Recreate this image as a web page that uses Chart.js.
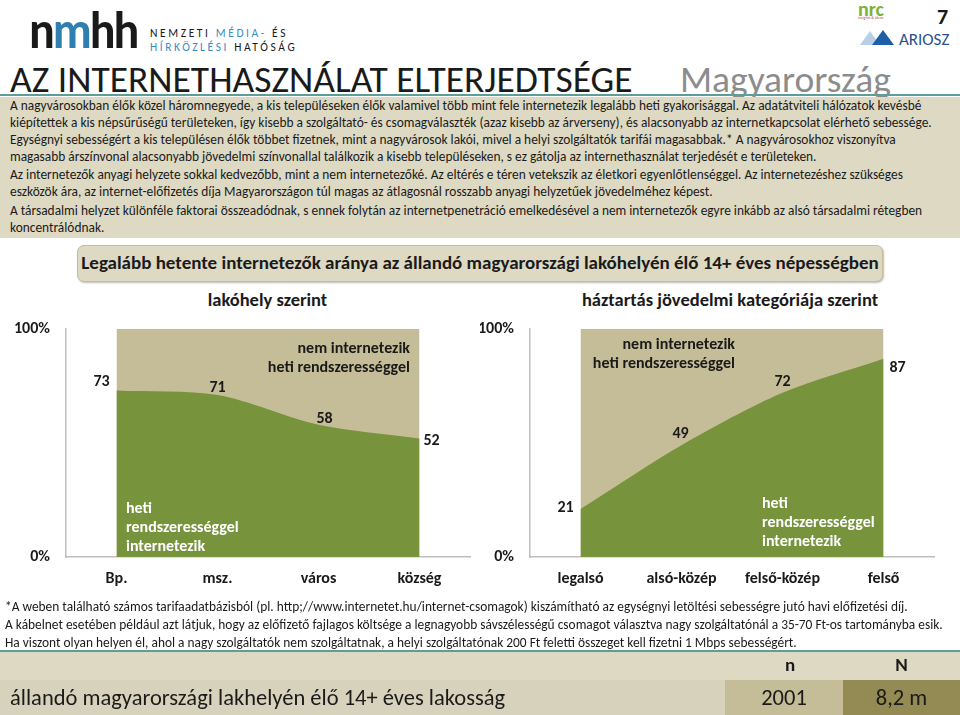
<!DOCTYPE html>
<html>
<head>
<meta charset="utf-8">
<script src="https://cdn.jsdelivr.net/npm/chart.js@4.4.0/dist/chart.umd.min.js"></script>
<style>
  body { margin: 0; width: 960px; height: 715px; position: relative; overflow: hidden; background: #fff;
         font-family: Carlito, Lato, "Open Sans", sans-serif; color: #1a1a1a; }
  .abs { position: absolute; white-space: nowrap; }
  #intro { left: 0; top: 97px; width: 960px; height: 141px; background: #ddd9c3; }
  #intro div { position: absolute; left: 10px; font-size: 13.4px; line-height: 16px; }
  .foot { left: 5px; font-size: 13.4px; line-height: 16px; }
  .inner { font-weight: bold; font-size: 16px; line-height: 19px; }
</style>
</head>
<body>
<!-- logos -->
<div class="abs" style="left:29px;top:5px;font-size:48px;font-weight:bold;letter-spacing:-2px;line-height:52px;transform:scaleY(1.08);">n<span style="color:#2f7fb0">m</span>hh</div>
<div class="abs" style="left:150px;top:26px;font-size:11.5px;letter-spacing:2.6px;line-height:14px;">NEMZETI <span style="color:#3a8cc0">MÉDIA- </span>ÉS<br><span style="color:#3a8cc0">HÍRKÖZLÉSI</span> HATÓSÁG</div>
<div class="abs" style="left:858px;top:-3px;font-size:20px;font-weight:bold;color:#7bb13a;">nrc</div>
<div class="abs" style="left:858px;top:15px;font-size:4px;color:#c0504d;">insights &amp; ideas</div>
<div class="abs" style="left:860px;top:31px;width:0;height:0;border-left:10px solid transparent;border-right:10px solid transparent;border-bottom:14px solid #b8cfe8;"></div>
<div class="abs" style="left:872px;top:30px;width:0;height:0;border-left:11px solid transparent;border-right:11px solid transparent;border-bottom:15px solid #1f5fa8;"></div>
<div class="abs" style="left:899px;top:29px;font-size:17px;color:#2b4f8f;">ARIOSZ</div>
<div class="abs" style="left:937px;top:3px;font-size:22px;font-weight:bold;">7</div>

<div class="abs" style="left:10px;top:57px;font-size:37.5px;line-height:44px;">AZ INTERNETHASZNÁLAT ELTERJEDTSÉGE</div>
<div class="abs" style="left:680px;top:57px;font-size:37.5px;line-height:44px;color:#8c8c8c;">Magyarország</div>
<div class="abs" style="left:0;top:94px;width:960px;height:2px;background:#5e9e9a;"></div>

<div id="intro" class="abs">
  <div style="top:1px">A nagyvárosokban élők közel háromnegyede, a kis településeken élők valamivel több mint fele internetezik legalább heti gyakorisággal. Az adatátviteli hálózatok kevésbé</div>
  <div style="top:18px">kiépítettek a kis népsűrűségű területeken, így kisebb a szolgáltató- és csomagválaszték (azaz kisebb az árverseny), és alacsonyabb az internetkapcsolat elérhető sebessége.</div>
  <div style="top:35px">Egységnyi sebességért a kis településen élők többet fizetnek, mint a nagyvárosok lakói, mivel a helyi szolgáltatók tarifái magasabbak.* A nagyvárosokhoz viszonyítva</div>
  <div style="top:52px">magasabb árszínvonal alacsonyabb jövedelmi színvonallal találkozik a kisebb településeken, s ez gátolja az internethasználat terjedését e területeken.</div>
  <div style="top:70px">Az internetezők anyagi helyzete sokkal kedvezőbb, mint a nem internetezőké. Az eltérés e téren vetekszik az életkori egyenlőtlenséggel. Az internetezéshez szükséges</div>
  <div style="top:87px">eszközök ára, az internet-előfizetés díja Magyarországon túl magas az átlagosnál rosszabb anyagi helyzetűek jövedelméhez képest.</div>
  <div style="top:106px">A társadalmi helyzet különféle faktorai összeadódnak, s ennek folytán az internetpenetráció emelkedésével a nem internetezők egyre inkább az alsó társadalmi rétegben</div>
  <div style="top:123px">koncentrálódnak.</div>
</div>

<div class="abs" style="left:77px;top:245px;width:804px;height:35px;background:#ddd9c3;border:1px solid #c4bd97;border-radius:7px;box-shadow:1px 1px 2px #bbb;"></div>
<div class="abs" style="left:77px;top:251px;width:806px;text-align:center;font-size:19px;font-weight:bold;">Legalább hetente internetezők aránya az állandó magyarországi lakóhelyén élő 14+ éves népességben</div>

<div class="abs" style="left:160px;top:288px;width:215px;text-align:center;font-size:18.5px;font-weight:bold;">lakóhely szerint</div>
<div class="abs" style="left:580px;top:288px;width:300px;text-align:center;font-size:18.5px;font-weight:bold;">háztartás jövedelmi kategóriája szerint</div>

<canvas id="c1" class="abs" style="left:0;top:315px;"></canvas>
<canvas id="c2" class="abs" style="left:480px;top:315px;"></canvas>

<div class="abs inner" style="left:230px;top:338px;width:180px;text-align:right;">nem internetezik<br>heti rendszerességgel</div>
<div class="abs inner" style="left:126px;top:498px;color:#fff;">heti<br>rendszerességgel<br>internetezik</div>
<div class="abs inner" style="left:555px;top:334px;width:180px;text-align:right;">nem internetezik<br>heti rendszerességgel</div>
<div class="abs inner" style="left:762px;top:493px;color:#fff;">heti<br>rendszerességgel<br>internetezik</div>

<div class="abs foot" style="top:599px;">*A weben található számos tarifaadatbázisból (pl. http;//www.internetet.hu/internet-csomagok) kiszámítható az egységnyi letöltési sebességre jutó havi előfizetési díj.</div>
<div class="abs foot" style="top:617px;">A kábelnet esetében például azt látjuk, hogy az előfizető fajlagos költsége a legnagyobb sávszélességű csomagot választva nagy szolgáltatónál a 35-70 Ft-os tartományba esik.</div>
<div class="abs foot" style="top:635px;">Ha viszont olyan helyen él, ahol a nagy szolgáltatók nem szolgáltatnak, a helyi szolgáltatónak 200 Ft feletti összeget kell fizetni 1 Mbps sebességért.</div>

<div class="abs" style="left:0;top:650px;width:960px;height:65px;background:#ddd9c3;"></div>
<div class="abs" style="left:0;top:650px;width:960px;height:2px;background:#5e9e9a;"></div>
<div class="abs" style="left:0;top:680px;width:725px;height:35px;background:#d7d2bb;"></div>
<div class="abs" style="left:725px;top:680px;width:118px;height:35px;background:#c4bd97;"></div>
<div class="abs" style="left:843px;top:680px;width:117px;height:35px;background:#948a54;"></div>
<div class="abs" style="left:731px;top:653px;width:118px;text-align:center;font-size:19px;font-weight:bold;">n</div>
<div class="abs" style="left:843px;top:653px;width:117px;text-align:center;font-size:19px;font-weight:bold;">N</div>
<div class="abs" style="left:10px;top:684px;font-size:22.5px;">állandó magyarországi lakhelyén élő 14+ éves lakosság</div>
<div class="abs" style="left:725px;top:684px;width:118px;text-align:center;font-size:22.5px;">2001</div>
<div class="abs" style="left:843px;top:684px;width:117px;text-align:center;font-size:22.5px;">8,2 m</div>

<script>
// lakóhely szerint
var placeLabels = ['Bp.', 'msz.', 'város', 'község'];
var placeWeekly = [73, 71, 58, 52];
// háztartás jövedelmi kategóriája szerint
var incomeLabels = ['legalsó', 'alsó-közép', 'felső-közép', 'felső'];
var incomeWeekly = [21, 49, 72, 87];
var fullShare = [100, 100, 100, 100];
var yTicks = [0, 100];

// label nudge from its point, [dx, dy] in px
var placeLabelShift = [[-15, -9], [0, -7], [6, -6], [12, 3]];
var incomeLabelShift = [[-15, -1], [-1, -11], [0, -11], [14, 9]];

var FONT = 'Carlito, Lato, "Open Sans", sans-serif';

var valueLabels = {
    id: 'valueLabels',
    afterDatasetsDraw: function (chart, args, opts) {
        var meta = chart.getDatasetMeta(0);
        var ctx = chart.ctx;
        ctx.save();
        ctx.font = 'bold 16px ' + FONT;
        ctx.fillStyle = '#1a1a1a';
        ctx.textBaseline = 'middle';
        ctx.textAlign = 'center';
        meta.data.forEach(function (pt, i) {
            var v = chart.data.datasets[0].data[i];
            var s = opts.shift[i];
            ctx.fillText(v, pt.x + s[0], pt.y + s[1]);
        });
        ctx.restore();
    }
};

function plotArea(setting = {})
{
    var canvas = document.getElementById(setting.id);
    canvas.width = 480;
    canvas.height = 285;

    return new Chart(canvas, {
        type: 'line',
        data: {
            labels: setting.labels,
            datasets: [
                {
                    label: 'heti rendszerességgel internetezik',
                    data: setting.values,
                    backgroundColor: '#77933c',
                    borderWidth: 0,
                    pointRadius: 0,
                    tension: 0.3,
                    fill: 'origin'
                },
                {
                    label: 'nem internetezik heti rendszerességgel',
                    data: fullShare,
                    backgroundColor: '#c4bd97',
                    borderWidth: 0,
                    pointRadius: 0,
                    fill: 'origin'
                }
            ]
        },
        plugins: [valueLabels],
        options: {
            responsive: false,
            animation: false,
            layout: { padding: setting.padding },
            plugins: {
                legend: { display: false },
                tooltip: { enabled: false },
                valueLabels: { shift: setting.shift }
            },
            scales: {
                x: {
                    offset: true,
                    grid: { display: false, drawTicks: false },
                    border: { display: true, color: '#bfbfbf', width: 1.5 },
                    ticks: { color: '#1a1a1a', font: { family: FONT, size: 16, weight: 'bold' }, padding: 12, maxRotation: 0 },
                    afterFit: function (scale) { scale.height = 43; }
                },
                y: {
                    min: 0,
                    max: 100,
                    grid: { display: false, drawTicks: false },
                    border: { display: true, color: '#bfbfbf', width: 1.5 },
                    afterBuildTicks: function (scale) {
                        scale.ticks = yTicks.map(function (v) { return { value: v }; });
                    },
                    ticks: {
                        color: '#1a1a1a',
                        font: { family: FONT, size: 16, weight: 'bold' },
                        padding: 16,
                        callback: function (v) { return v + '%'; }
                    },
                    afterFit: function (scale) {
                        scale.width = setting.yWidth;
                        scale.paddingTop = 0;
                        scale.paddingBottom = 0;
                    }
                }
            }
        }
    });
}

plotArea({ id: 'c1', labels: placeLabels, values: placeWeekly, shift: placeLabelShift,
           padding: { left: 10, right: 10, top: 14, bottom: 0 }, yWidth: 56 });
plotArea({ id: 'c2', labels: incomeLabels, values: incomeWeekly, shift: incomeLabelShift,
           padding: { left: 0, right: 26, top: 14, bottom: 0 }, yWidth: 50 });
</script>
</body>
</html>
